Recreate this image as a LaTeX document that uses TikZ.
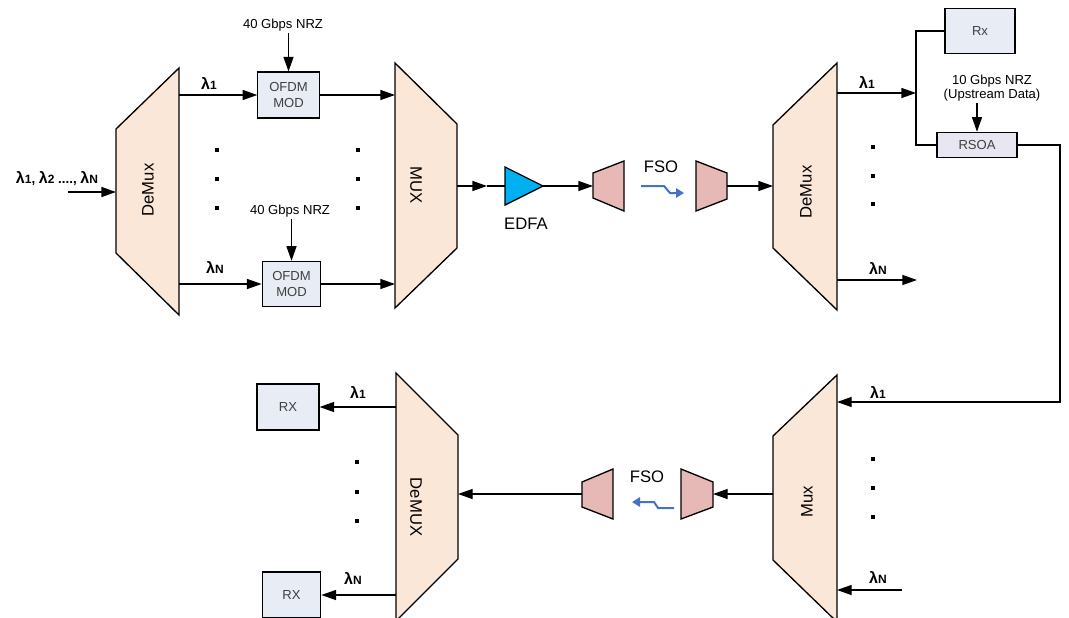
\documentclass[tikz,border=0pt]{standalone}
\usepackage{fontspec}
\setmainfont{Liberation Sans}
\usetikzlibrary{arrows.meta}

\definecolor{peach}{HTML}{FBE7D8}
\definecolor{modfill}{HTML}{E8ECF4}
\definecolor{rsoafill}{HTML}{E8E6F0}
\definecolor{telefill}{HTML}{E6B9B6}
\definecolor{edfablue}{HTML}{00B0F0}
\definecolor{linkblue}{HTML}{4472C4}

% wavelength label: bold lambda with small index
\newcommand{\wl}[1]{{\bfseries\fontsize{12}{12}\selectfont λ\fontsize{9}{9}\selectfont #1}}

\tikzset{
  wdm/.style={draw, line width=1pt, fill=peach},
  tele/.style={draw, line width=1pt, fill=telefill},
  boxed/.style={draw, line width=0.8pt, fill=modfill, text=black!75, font=\fontsize{9.8}{11.5}\selectfont, align=center, inner sep=0pt},
  biglbl/.style={font=\fontsize{12.5}{13}\selectfont},
  smalllbl/.style={font=\fontsize{9.8}{11}\selectfont, align=center, inner sep=1pt},
  link/.style={draw=linkblue, line width=1.5pt, -{Triangle[length=6pt,width=7pt]}},
  dotcol/.style={fill=black},
}

\begin{document}
\begin{tikzpicture}[x=0.75pt, y=-0.75pt, line width=1pt, >={Triangle[length=11pt,width=7.5pt]}]
    \clip (0,0) rectangle (1069,617);

    % ==========================================
    % Downstream transmitter: DeMux -> OFDM MOD -> MUX
    % ==========================================
    \draw[wdm] (116,129) -- (179,68) -- (179,315) -- (116,253) -- cycle;
    \node[biglbl, rotate=90] (dmxA) at (148,190) {DeMux};

    \draw[wdm] (395,63) -- (457,124) -- (457,248) -- (395,308) -- cycle;
    \node[biglbl, rotate=-90] (muxA) at (416,185) {MUX};

    % ports
    \coordinate (src) at (68,192);
    \coordinate (dmxAin) at (116,192);
    \coordinate (dmxA1) at (179,95);
    \coordinate (dmxAN) at (179,284);
    \coordinate (muxA1) at (395,95);
    \coordinate (muxAN) at (395,284);
    \coordinate (muxAout) at (457,186);

    \node[inner sep=0pt] (srclbl) at (57,179) {\wl{1}{\bfseries,} \wl{2} {\bfseries ....,} \wl{N}};
    \draw[->] (src) -- (dmxAin);

    % modulators
    \node[boxed, minimum width=46pt, minimum height=34.5pt] (modA) at (288.5,95) {OFDM\\MOD};
    \node[boxed, minimum width=44pt, minimum height=34pt] (modN) at (291.5,284) {OFDM\\MOD};
    \node[smalllbl] (nrzA) at (283,25) {40 Gbps NRZ};
    \node[smalllbl] (nrzN) at (290,211) {40 Gbps NRZ};
    \draw[->] (nrzA.south -| modA.north) -- (modA.north);
    \draw[->] (nrzN.south -| modN.north) -- (modN.north);

    \draw[->] (dmxA1) -- (modA.west);
    \draw[->] (dmxAN) -- (modN.west);
    \draw[->] (modA.east) -- (muxA1);
    \draw[->] (modN.east) -- (muxAN);
    \node (lamA1) at (209,83) {\wl{1}};
    \node (lamAN) at (215,267) {\wl{N}};

    % dots between the channels
    \foreach \x in {217,358}
        \foreach \y in {150,179,208}
            \fill[dotcol] (\x,\y) +(-2,-2) rectangle +(2,2);

    % ==========================================
    % EDFA and first FSO link
    % ==========================================
    \coordinate (ampmid) at (487,186);
    \draw[fill=edfablue, line width=1pt] (505,167) -- (543,186) -- (505,205) -- cycle;
    \coordinate (edfaIn) at (505,186);
    \coordinate (edfaOut) at (543,186);
    \node[biglbl] (edfa) at (526,224) {EDFA};
    \draw[->] (muxAout) -- (ampmid);
    \draw (ampmid) -- (edfaIn);

    \draw[tele] (593,173) -- (624,161) -- (624,211) -- (593,198) -- cycle;
    \draw[tele] (696,161) -- (727,173) -- (727,199) -- (696,211) -- cycle;
    \coordinate (teleAin) at (593,186);
    \coordinate (teleBout) at (727,186);
    \draw[->] (edfaOut) -- (teleAin);
    \node[biglbl] (fsoA) at (661,167) {FSO};
    \draw[link] (641,186) -- (664,186) -- (670,193) -- (684,193);

    % ==========================================
    % Remote node: DeMux, Rx and RSOA
    % ==========================================
    \draw[wdm] (773,125) -- (837,63) -- (837,310) -- (773,248) -- cycle;
    \node[biglbl, rotate=90] (dmxB) at (806,192) {DeMux};
    \coordinate (dmxBin) at (773,186);
    \coordinate (dmxB1) at (837,93);
    \coordinate (dmxBN) at (837,280);
    \coordinate (tap) at (916,93);
    \coordinate (outN) at (917,280);
    \draw[->] (teleBout) -- (dmxBin);
    \draw[->] (dmxB1) -- (tap);
    \draw[->] (dmxBN) -- (outN);
    \node (lamB1) at (867,82) {\wl{1}};
    \node (lamBN) at (878,268) {\wl{N}};
    \foreach \y in {147,176,204}
        \fill[dotcol] (873,\y) +(-2,-2) rectangle +(2,2);

    \node[boxed, minimum width=52.5pt, minimum height=34pt] (rxB) at (980,31) {Rx};
    \node[boxed, fill=rsoafill, minimum width=60pt, minimum height=19pt] (rsoa) at (977,145) {RSOA};
    \node[smalllbl] (nrzUp) at (992,88) {10 Gbps NRZ\\(Upstream Data)};
    \draw[->] (nrzUp.south -| rsoa.north) -- (rsoa.north);
    \draw (rxB.west) -| (tap) |- (rsoa.west);

    % loop back to the upstream Mux
    \coordinate (turn) at (1060,402);
    \coordinate (muxC1) at (837,402);
    \draw[->] (rsoa.east) -| (turn) -- (muxC1);

    % ==========================================
    % Upstream: Mux -> FSO -> DeMUX -> RX
    % ==========================================
    \draw[wdm] (773,436) -- (837,375) -- (837,622) -- (773,560) -- cycle;
    \node[biglbl, rotate=90] (muxC) at (807,502) {Mux};
    \coordinate (muxCout) at (773,494);
    \coordinate (muxCN) at (837,590);
    \coordinate (upN) at (902,590);
    \draw[->] (upN) -- (muxCN);
    \node (lamC1) at (878,392) {\wl{1}};
    \node (lamCN) at (878,577) {\wl{N}};
    \foreach \y in {459,488,517}
        \fill[dotcol] (873,\y) +(-2,-2) rectangle +(2,2);

    \draw[tele] (681,469) -- (713,482) -- (713,507) -- (681,519) -- cycle;
    \draw[tele] (582,482) -- (613,469) -- (613,519) -- (582,507) -- cycle;
    \coordinate (teleCin) at (713,494);
    \coordinate (teleDout) at (582,494);
    \draw[->] (muxCout) -- (teleCin);
    \node[biglbl] (fsoB) at (647,477) {FSO};
    \draw[link] (674,508) -- (658,508) -- (654,502) -- (632,502);

    \draw[wdm] (396,373) -- (458,435) -- (458,559) -- (396,621) -- cycle;
    \node[biglbl, rotate=-90] (dmxD) at (416,507) {DeMUX};
    \coordinate (dmxDin) at (458,494);
    \coordinate (dmxD1) at (396,407);
    \coordinate (dmxDN) at (396,595);
    \draw[->] (teleDout) -- (dmxDin);

    \node[boxed, minimum width=46.5pt, minimum height=34.5pt] (rxD1) at (288,407) {RX};
    \node[boxed, minimum width=44pt, minimum height=34.5pt] (rxDN) at (291.5,595) {RX};
    \draw[->] (dmxD1) -- (rxD1.east);
    \draw[->] (dmxDN) -- (rxDN.east);
    \node (lamD1) at (358,392) {\wl{1}};
    \node (lamDN) at (353,578) {\wl{N}};
    \foreach \y in {462,492,521}
        \fill[dotcol] (357,\y) +(-2,-2) rectangle +(2,2);
\end{tikzpicture}
\end{document}
